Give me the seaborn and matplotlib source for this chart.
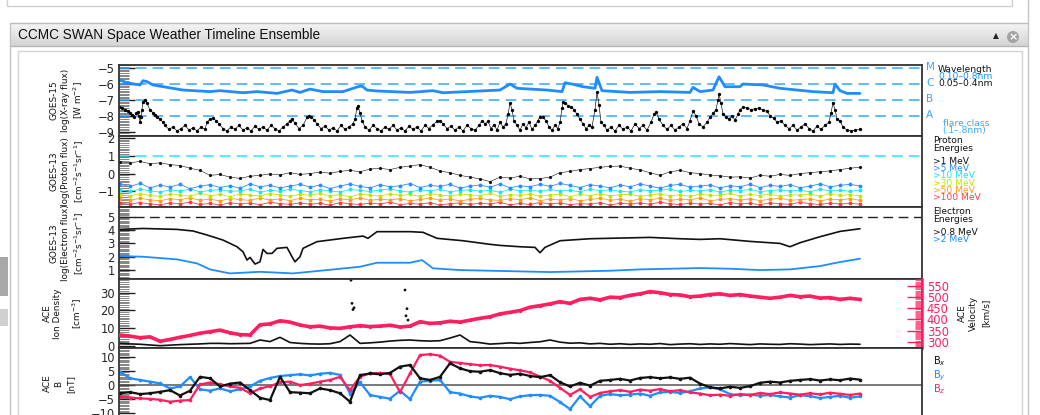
import numpy as np
import pandas as pd
import matplotlib
matplotlib.use("Agg")
import matplotlib.pyplot as plt
import seaborn as sns
from matplotlib.ticker import MultipleLocator, FixedLocator
from matplotlib.patches import Rectangle, Circle
from matplotlib.colors import LinearSegmentedColormap

# ---------------- data (time axis: hours from start of interval) ----------------
# GOES-15 X-ray, 0.1-0.8 nm (log W m^-2)
xray_long_t = [1, 8, 21, 24, 28, 34, 48, 64, 91, 101, 124, 138, 158, 173, 181, 191, 204, 224, 239, 243,
               248, 258, 291, 314, 324, 361, 381, 391, 398, 428, 443, 446, 453, 464, 476, 478, 483, 511, 541, 571,
               574, 581, 594, 600, 606, 621, 624, 644, 661, 694, 714, 716, 721, 728, 741]
xray_long = [-5.74, -5.91, -6.05, -5.78, -5.84, -6.05, -6.2, -6.37, -6.47, -6.41, -6.54, -6.47, -6.58, -6.37, -6.52,
             -6.31, -6.47, -6.47, -6.16, -6.12, -6.37, -6.43, -6.52, -6.41, -6.54, -6.43, -6.37, -5.99, -6.26, -6.37,
             -6.47, -5.91, -5.99, -6.16, -6.26, -5.57, -6.41, -6.52, -6.47, -6.52, -6.2, -6.47, -6.37, -5.53, -6.16,
             -6.16, -5.99, -6.05, -6.26, -6.47, -6.54, -5.99, -6.41, -6.58, -6.58]
# GOES-15 X-ray, 0.05-0.4 nm (time, log flux)
xray_short_pts = [
    (0, -7.42), (3, -7.5), (6, -7.6), (9, -7.7), (11, -7.84), (13, -7.95), (15, -8.05), (17, -7.85), (19, -7.74),
    (20, -8.0), (21, -8.37), (22, -8.1), (23, -7.6), (24, -7.1), (26, -7.0), (28, -7.2), (31, -7.63), (34, -7.8),
    (36, -7.95), (38, -8.05), (41, -8.2), (44, -8.4),
    (46, -8.6), (50, -8.85), (54, -8.7), (58, -8.95), (62, -8.8), (66, -8.6), (70, -8.9), (74, -8.75), (78, -8.95),
    (82, -8.7), (86, -8.85), (88, -8.4), (91, -8.2), (94, -8.15), (97, -8.3), (100, -8.5), (104, -8.8), (108, -8.95),
    (112, -8.7), (116, -8.85), (120, -8.6), (124, -8.9), (128, -8.75), (132, -8.95), (136, -8.65), (140, -8.85),
    (144, -8.7), (148, -8.9), (152, -8.6), (156, -8.8), (160, -8.95), (164, -8.7), (168, -8.5), (171, -8.3),
    (173, -8.2), (176, -8.45), (180, -8.8), (184, -8.6), (188, -8.1), (190, -8.0), (192, -8.05), (195, -8.25),
    (198, -8.5), (202, -8.8), (206, -8.65), (210, -8.9), (214, -8.75), (218, -8.95), (222, -8.6), (226, -8.85),
    (230, -8.7), (234, -8.5), (236, -8.2), (238, -7.5), (239, -7.4), (241, -7.8), (243, -8.3), (246, -8.7),
    (250, -8.9), (254, -8.6), (258, -8.8), (262, -8.95), (266, -8.7), (270, -8.85), (274, -8.6), (278, -8.9),
    (282, -8.75), (286, -8.95), (290, -8.65), (294, -8.85), (298, -8.7), (302, -8.95), (306, -8.6), (310, -8.8),
    (314, -8.55), (318, -8.35), (321, -8.3), (324, -8.5), (328, -8.8), (332, -8.65), (336, -8.9), (340, -8.7),
    (344, -8.95), (348, -8.6), (352, -8.8), (356, -8.9), (360, -8.6), (363, -8.3), (366, -8.5), (369, -8.35),
    (372, -8.8), (375, -8.55), (378, -8.9), (381, -8.4), (384, -8.7), (387, -8.5), (389, -7.9), (391, -7.2),
    (393, -7.6), (395, -8.3), (398, -8.6), (401, -8.9), (404, -8.5), (407, -8.75), (410, -8.4), (413, -8.85),
    (416, -8.6), (419, -8.3), (421, -8.05), (424, -8.1), (427, -8.3), (430, -8.7), (433, -8.9), (436, -8.6),
    (439, -8.8), (441, -8.4), (443, -7.5), (444, -7.1), (446, -7.2), (449, -7.35), (452, -7.45), (455, -7.6),
    (458, -7.9), (461, -8.2), (464, -8.5), (467, -8.8), (470, -8.6), (473, -8.7), (476, -7.6), (478, -6.5),
    (480, -7.3), (482, -8.4), (485, -8.6), (488, -8.9), (492, -8.7), (496, -8.95), (500, -8.6), (504, -8.85),
    (508, -8.7), (512, -8.95), (516, -8.5), (520, -8.8), (524, -8.6), (528, -8.9), (532, -8.4), (535, -7.9),
    (537, -7.75), (540, -8.2), (544, -8.6), (548, -8.85), (552, -8.6), (556, -8.9), (560, -8.7), (564, -8.5),
    (568, -8.8), (571, -8.3), (574, -7.7), (577, -8.0), (580, -8.5), (584, -8.7), (588, -8.4), (591, -8.1),
    (594, -7.85), (597, -7.6), (599, -7.0), (600, -6.6), (602, -7.2), (604, -7.9), (607, -8.05), (610, -8.2),
    (613, -8.0), (616, -8.25), (619, -7.9), (621, -7.6), (624, -7.45), (628, -7.5), (632, -7.6), (636, -7.55),
    (640, -7.5), (644, -7.65), (648, -7.7), (651, -8.0), (655, -8.15), (658, -8.4), (662, -8.3), (666, -8.6),
    (670, -8.8), (674, -8.6), (678, -8.9), (682, -8.7), (686, -8.5), (690, -8.8), (694, -8.95), (698, -8.65),
    (702, -8.85), (706, -8.6), (710, -8.4), (712, -7.8), (714, -7.2), (716, -7.6), (718, -8.2), (721, -8.3),
    (724, -8.7), (728, -8.9), (732, -8.95), (736, -8.9), (741, -8.85)]
flare_levels = [-5, -6, -7, -8]
flare_classes = ["M", "C", "B", "A"]

# GOES-13 protons, log flux (evenly sampled over the interval)
proton_1 = [0.65, 0.6, 0.68, 0.55, 0.6, 0.5, 0.45, 0.3, 0.18, -0.1, -0.05, -0.2, -0.27, -0.15, -0.1, -0.02, -0.08,
            0.05, -0.05, 0.0, 0.08, 0.02, 0.12, 0.18, 0.1, 0.25, 0.3, 0.22, 0.35, 0.42, 0.5, 0.35, 0.15, 0.05, -0.1,
            -0.2, -0.3, -0.45, -0.2, -0.25, -0.15, -0.3, -0.28, -0.2, 0.05, 0.12, 0.22, 0.28, 0.35, 0.4, 0.42, 0.3,
            0.2, 0.05, -0.1, 0.1, 0.18, 0.05, 0.0, -0.08, -0.12, -0.2, -0.18, -0.25, -0.1, -0.15, -0.05, -0.1, 0.0,
            0.05, 0.1, 0.15, 0.22, 0.3, 0.35]
proton_5 = [-0.6, -0.72, -0.55, -0.8, -0.65, -0.75, -0.6, -0.85, -0.7, -0.62, -0.78, -0.68, -0.82, -0.58, -0.74,
            -0.66, -0.8, -0.7, -0.6, -0.76, -0.64, -0.84, -0.7, -0.58, -0.72, -0.8, -0.62, -0.74, -0.68, -0.56,
            -0.78, -0.66, -0.72, -0.6, -0.82, -0.7, -0.64, -0.76, -0.58, -0.8, -0.68, -0.74, -0.6, -0.72, -0.55,
            -0.66, -0.78, -0.62, -0.7, -0.8, -0.64, -0.74, -0.58, -0.7, -0.82, -0.66, -0.6, -0.76, -0.7, -0.64,
            -0.8, -0.68, -0.74, -0.6, -0.78, -0.66, -0.72, -0.62, -0.8, -0.7, -0.58, -0.74, -0.66, -0.6, -0.7]
proton_10 = [-0.92, -1.0, -0.88, -0.96, -1.04, -0.9, -0.98, -0.86, -1.02, -0.94, -0.9, -1.0, -0.96, -0.88, -1.05,
             -0.93, -0.99, -0.87, -0.95, -1.02, -0.9, -0.97, -1.03, -0.89, -0.94, -1.0, -0.92, -0.86, -0.98, -1.04,
             -0.91, -0.96, -0.88, -1.01, -0.95, -0.9, -0.99, -0.93, -1.05, -0.87, -0.96, -0.92, -1.0, -0.89, -0.97,
             -0.94, -1.02, -0.88, -0.95, -0.91, -0.99, -1.03, -0.9, -0.96, -0.93, -0.87, -1.0, -0.94, -0.98, -0.9,
             -1.04, -0.92, -0.96, -0.89, -1.01, -0.95, -0.91, -0.98, -0.93, -1.02, -0.88, -0.96, -0.92, -0.99, -0.94]
proton_30 = [-1.18, -1.25, -1.12, -1.22, -1.28, -1.15, -1.2, -1.26, -1.1, -1.23, -1.17, -1.29, -1.14, -1.21, -1.25,
             -1.12, -1.19, -1.27, -1.16, -1.22, -1.11, -1.24, -1.18, -1.3, -1.15, -1.2, -1.26, -1.13, -1.22, -1.17,
             -1.28, -1.12, -1.21, -1.25, -1.16, -1.19, -1.24, -1.11, -1.27, -1.18, -1.22, -1.14, -1.26, -1.2, -1.15,
             -1.29, -1.17, -1.23, -1.12, -1.25, -1.19, -1.16, -1.28, -1.21, -1.13, -1.24, -1.18, -1.27, -1.15, -1.22,
             -1.2, -1.11, -1.26, -1.17, -1.23, -1.14, -1.28, -1.19, -1.21, -1.16, -1.25, -1.13, -1.22, -1.18, -1.24]
proton_50 = [-1.44, -1.5, -1.38, -1.47, -1.52, -1.41, -1.46, -1.36, -1.49, -1.43, -1.53, -1.4, -1.45, -1.5, -1.37,
             -1.48, -1.42, -1.51, -1.39, -1.46, -1.44, -1.54, -1.41, -1.47, -1.36, -1.5, -1.43, -1.48, -1.4, -1.52,
             -1.45, -1.38, -1.49, -1.42, -1.53, -1.44, -1.39, -1.47, -1.5, -1.41, -1.46, -1.37, -1.51, -1.43, -1.48,
             -1.4, -1.52, -1.45, -1.38, -1.49, -1.44, -1.54, -1.41, -1.46, -1.39, -1.5, -1.43, -1.47, -1.36, -1.52,
             -1.45, -1.4, -1.48, -1.42, -1.51, -1.44, -1.38, -1.49, -1.46, -1.41, -1.53, -1.43, -1.47, -1.4, -1.5]
proton_100 = [-1.66, -1.72, -1.62, -1.7, -1.75, -1.64, -1.69, -1.6, -1.73, -1.67, -1.76, -1.63, -1.7, -1.65, -1.74,
              -1.61, -1.68, -1.72, -1.64, -1.71, -1.66, -1.77, -1.62, -1.69, -1.73, -1.65, -1.7, -1.6, -1.74, -1.67,
              -1.71, -1.63, -1.76, -1.68, -1.64, -1.72, -1.66, -1.7, -1.61, -1.75, -1.67, -1.73, -1.62, -1.69, -1.65,
              -1.74, -1.68, -1.71, -1.63, -1.76, -1.66, -1.7, -1.64, -1.72, -1.6, -1.69, -1.73, -1.65, -1.71, -1.67,
              -1.75, -1.62, -1.7, -1.66, -1.74, -1.64, -1.69, -1.72, -1.61, -1.68, -1.73, -1.65, -1.7, -1.67, -1.71]
proton_labels = [">1 MeV", ">5 MeV", ">10 MeV", ">30 MeV", ">50 MeV", ">100 MeV"]

# GOES-13 electrons, log flux
elec_08_t = [1, 24, 58, 74, 88, 104, 118, 124, 128, 131, 136, 141, 144, 148, 153, 158, 168, 173, 176, 181, 184,
             198, 224, 244, 249, 258, 291, 304, 318, 344, 371, 381, 401, 416, 421, 426, 441, 471, 501, 531, 561,
             581, 601, 631, 661, 671, 681, 701, 721, 741]
elec_08 = [4.05, 4.12, 4.05, 3.93, 3.63, 3.25, 2.75, 2.37, 1.75, 1.95, 1.45, 1.62, 2.55, 2.25, 2.25, 2.63, 2.7, 2.0,
           1.62, 2.0, 2.63, 3.13, 3.38, 3.55, 3.38, 3.88, 3.88, 3.83, 3.38, 3.2, 2.93, 2.85, 2.75, 2.7, 2.3, 2.7,
           3.2, 3.35, 3.4, 3.45, 3.35, 3.3, 3.35, 3.15, 3.0, 2.75, 3.05, 3.5, 3.9, 4.1]
elec_2_t = [1, 24, 58, 78, 91, 111, 141, 174, 208, 241, 258, 291, 303, 314, 341, 371, 401, 431, 461, 491, 521, 551,
            581, 611, 641, 671, 701, 721, 741]
elec_2 = [2.05, 2.0, 1.8, 1.5, 1.05, 0.75, 0.87, 0.75, 1.0, 1.25, 1.55, 1.55, 1.75, 1.13, 1.0, 0.95, 0.9, 0.85, 0.9,
          0.95, 1.05, 1.1, 1.15, 1.1, 1.0, 1.05, 1.3, 1.6, 1.85]

# ACE solar wind (evenly sampled)
ace_velocity = [330, 325, 318, 322, 302, 310, 320, 328, 338, 345, 352, 340, 332, 330, 376, 380, 394, 388, 375, 367,
                370, 362, 360, 367, 372, 368, 370, 374, 366, 370, 390, 382, 385, 392, 388, 397, 405, 412, 425, 432,
                440, 455, 462, 470, 480, 472, 490, 495, 488, 500, 498, 508, 515, 525, 520, 512, 510, 502, 505, 512,
                515, 508, 512, 505, 500, 495, 500, 508, 502, 505, 496, 498, 490, 495, 490]
ace_density = [1.5, 1.2, 1.0, 0.6, 0.2, 0.5, 0.8, 1.0, 1.2, 1.5, 1.5, 1.3, 1.4, 1.5, 3.4, 2.5, 4.9, 2.0, 1.5, 1.2,
               1.1, 1.3, 2.5, 6.2, 1.5, 1.8, 2.2, 2.8, 3.2, 3.4, 3.0, 2.8, 3.0, 4.5, 6.2, 2.5, 1.9, 1.1, 1.4, 1.8,
               1.5, 2.0, 2.4, 3.4, 2.2, 1.6, 1.8, 1.2, 1.5, 1.0, 1.3, 0.9, 1.2, 1.0, 1.4, 0.8, 1.1, 1.3, 0.9, 1.2,
               1.0, 1.4, 1.1, 0.8, 1.2, 1.0, 0.9, 1.3, 1.1, 0.8, 1.0, 1.2, 0.9, 1.1, 1.0]
density_spikes_t = [232, 233, 234, 235, 286, 287, 288, 289]
density_spikes = [37.0, 24.0, 20.5, 21.5, 31.5, 17.0, 21.0, 14.6]

# ACE magnetic field components, nT (evenly sampled)
ace_bx = [-2.9, -2.5, -3.2, -2.9, -2.4, -1.8, -3.7, -2.0, 2.9, 2.4, -0.5, 0.5, 0.9, -1.8, -4.5, -5.3, 2.9, -2.5,
          -2.7, -2.9, -1.2, -1.8, -2.9, -5.9, 3.5, 4.1, 3.8, 4.3, 6.5, 7.1, 2.4, 1.8, 2.9, 7.7, 5.9, 4.9, 4.7, 5.3,
          4.2, 3.6, 4.0, 3.2, 2.8, 3.5, 1.0, -0.5, 0.8, -0.2, 1.5, 1.8, 2.2, 1.6, 2.5, 2.8, 2.4, 2.7, 2.2, 2.6, 0.5,
          -0.8, -1.2, -0.6, -1.0, -0.4, 0.8, 1.2, 0.9, 1.5, 1.8, 2.1, 1.6, 2.0, 1.7, 2.3, 1.9]
ace_by = [4.7, 2.4, 1.8, 1.2, 0.6, -1.2, -0.5, 2.8, -1.5, -2.0, -1.2, -2.2, -1.5, -0.5, 1.5, 2.5, 3.2, 3.5, 3.8, 3.4,
          4.0, 4.3, 3.6, -3.0, 1.0, -3.5, -4.2, -4.8, -2.0, -5.0, 1.2, 1.5, 1.8, -2.5, -3.0, -4.0, -4.5, -3.8, -4.2,
          -5.0, -4.0, -3.6, -3.5, -3.8, -6.0, -8.5, -4.0, -7.5, -3.8, -3.2, -3.6, -3.4, -3.0, -3.8, -2.6, -2.4, -2.8,
          -2.2, -1.2, -0.8, -1.5, -3.2, -3.6, -3.4, -3.8, -3.5, -4.0, -4.4, -3.6, -3.9, -4.6, -4.2, -3.8, -4.5, -4.0]
ace_bz = [-4.1, -4.4, -4.7, -4.9, -5.2, -5.9, -5.5, -5.3, 0.2, 0.9, 0.3, -0.5, -1.0, -2.9, -1.2, -0.4, 1.0, 1.2, 0.0,
          0.5, 1.2, 1.8, 2.9, -1.8, 3.0, 4.1, 4.3, 3.9, -2.5, 4.1, 10.6, 10.9, 10.4, 8.2, 7.8, 7.4, 7.0, 7.1, 6.5,
          5.8, 5.2, 4.5, 3.0, 1.5, -1.0, -3.5, -1.5, -4.2, -2.8, -2.2, -1.8, -2.4, -1.6, -2.0, -1.4, -2.2, -1.8,
          -2.6, -3.0, -3.6, -3.4, -3.8, -3.2, -3.5, -2.8, -3.2, -2.6, -3.0, -3.4, -2.9, -3.3, -2.7, -3.1, -3.5, -3.0]

T_START, T_END, T_AXIS = 1, 741, 803

# ---------------- styling ----------------
sns.set_style("white")
plt.rcParams['font.family'] = ['DejaVu Sans']

BLUE = '#1f8cff'
DASHBLUE = '#3aa6ff'
PINK = '#ff1f5f'
CYAN = '#2fe3f2'
PCOLORS = ['#111111', '#2b8cff', '#19e6ee', '#c4e400', '#ff9a1a', '#ff3850']

W, H = 1040, 415
fig = plt.figure(figsize=(W / 100, H / 100), dpi=100)
fig.patch.set_facecolor('white')

# page chrome (pixel coordinates)
bg = fig.add_axes([0, 0, 1, 1], zorder=-10)
bg.axis('off')
bg.plot([7, 7, 1012, 1012], [0, 6, 6, 0], color='#cfcfcf', lw=1)
cm = LinearSegmentedColormap.from_list('bar', ['#f5f5f5', '#d4d4d4'])
bg.imshow(np.linspace(0, 1, 30)[:, None], cmap=cm, extent=[10, 1028, 46, 23], aspect='auto',
          origin='upper', zorder=1)
bg.plot([10, 1028], [23, 23], color='#bdbdbd', lw=1, zorder=2)
bg.plot([10, 1028], [46, 46], color='#b5b5b5', lw=1, zorder=2)
bg.plot([10, 10], [23, 415], color='#c4c4c4', lw=1)
bg.plot([1028, 1028], [0, 415], color='#c4c4c4', lw=1)
bg.add_patch(Rectangle((18, 51), 1004, 380, fc='white', ec='#d4d4d4', lw=1))
bg.add_patch(Rectangle((0, 257), 8, 39, fc='#a8a8a8', ec='none'))
bg.add_patch(Rectangle((0, 309), 8, 17, fc='#d0d0d0', ec='none'))
bg.text(18, 35.5, "CCMC SWAN Space Weather Timeline Ensemble", fontsize=9.8, family='Liberation Sans',
        ha='left', va='center', color='#111111', zorder=3)
bg.text(996, 35.5, '\u25B2', fontsize=5.5, ha='center', va='center', color='#222222', zorder=3)
bg.add_patch(Circle((1013, 37), 6, fc='#a3a3a3', ec='none', zorder=3))
bg.text(1013, 37, '\u00D7', fontsize=8, ha='center', va='center', color='white', fontweight='bold', zorder=4)
bg.set_xlim(0, W)
bg.set_ylim(H, 0)


def panel(top, bottom):
    return fig.add_axes([119 / W, 1 - bottom / H, (922 - 119) / W, (bottom - top) / H])


def style(ax, ylim, major, minor):
    ax.set_facecolor('white')
    ax.set_xlim(0, T_AXIS)
    ax.set_ylim(*ylim)
    ax.set_xticks([])
    ax.set_xlabel('')
    ax.set_ylabel('')
    ax.yaxis.set_major_locator(FixedLocator(major))
    ax.yaxis.set_minor_locator(MultipleLocator(minor))
    ax.tick_params(axis='y', which='major', direction='in', length=11.5, width=1.0, color='#222222',
                   labelsize=8.3, pad=3, left=True, right=False)
    ax.tick_params(axis='y', which='minor', direction='in', length=7, width=0.5, color='#555555',
                   left=True, right=False)
    for s in ax.spines.values():
        s.set_color('#333333')
        s.set_linewidth(1.3)


def line(ax, t, v, color, lw, ms=0):
    sns.lineplot(x=np.asarray(t, float), y=np.asarray(v, float), ax=ax, color=color, linewidth=lw,
                 marker='o' if ms else None, markersize=ms, markeredgewidth=0,
                 estimator=None, sort=False)


def even_t(vals):
    return np.linspace(T_START, T_END, len(vals))


# ---- Panel 1: X-ray ----
ax1 = panel(65, 136)
for lv in flare_levels:
    ax1.axhline(lv, color=DASHBLUE, lw=1.1, dashes=(7, 4))
xs_t = [p[0] for p in xray_short_pts]
xs_v = [p[1] for p in xray_short_pts]
line(ax1, xs_t, xs_v, '#000000', 0.45, ms=2.4)
line(ax1, xray_long_t, xray_long, BLUE, 2.0)
style(ax1, (-9.27, -4.79), [-9, -8, -7, -6, -5], 0.1)

# ---- Panel 2: protons ----
ax2 = panel(136, 207)
ax2.axhline(1, color=CYAN, lw=1.1, dashes=(7, 4))
for vals, col in zip([proton_100, proton_50, proton_30, proton_10, proton_5],
                     [PCOLORS[5], PCOLORS[4], PCOLORS[3], PCOLORS[2], PCOLORS[1]]):
    line(ax2, even_t(vals), vals, col, 0.6, ms=2.8)
line(ax2, even_t(proton_1), proton_1, PCOLORS[0], 0.4, ms=2.3)
style(ax2, (-1.87, 2.1), [-1, 0, 1, 2], 0.1)

# ---- Panel 3: electrons ----
ax3 = panel(207, 279)
ax3.axhline(5, color='#222222', lw=1.0, dashes=(7, 4))
line(ax3, elec_08_t, elec_08, '#111111', 1.2)
line(ax3, elec_2_t, elec_2, BLUE, 1.3)
style(ax3, (0.33, 5.73), [1, 2, 3, 4, 5], 0.1)

# ---- Panel 4: ACE density + velocity ----
ax4 = panel(279, 348)
line(ax4, even_t(ace_density), ace_density, '#111111', 1.2)
sns.scatterplot(x=density_spikes_t, y=density_spikes, ax=ax4, color='#111111', s=4, edgecolor='none')
style(ax4, (-1.1, 37.7), [0, 10, 20, 30], 1)
ax4v = ax4.twinx()
line(ax4v, even_t(ace_velocity), ace_velocity, PINK, 2.6, ms=2.5)
ax4v.set_xlim(0, T_AXIS)
ax4v.set_ylim(271.7, 581.7)
ax4v.set_ylabel('')
ax4v.yaxis.set_major_locator(FixedLocator([300, 350, 400, 450, 500, 550]))
ax4v.yaxis.set_minor_locator(MultipleLocator(5))
ax4v.tick_params(axis='y', which='major', direction='in', length=11, width=1.0, color=PINK,
                 labelcolor=PINK, labelsize=8.3, pad=3.5, right=True, left=False)
ax4v.tick_params(axis='y', which='minor', direction='in', length=5, width=0.5, color=PINK,
                 right=True, left=False)
for k, s in ax4v.spines.items():
    s.set_visible(k == 'right')
ax4v.spines['right'].set_color(PINK)
ax4v.spines['right'].set_linewidth(1.8)

# ---- Panel 5: ACE B ----
ax5 = panel(348, 419)
ax5.axhline(0, color='#555555', lw=1.1)
line(ax5, even_t(ace_by), ace_by, BLUE, 1.6, ms=2.6)
line(ax5, even_t(ace_bz), ace_bz, PINK, 1.6, ms=2.6)
line(ax5, even_t(ace_bx), ace_bx, '#111111', 1.6, ms=2.6)
style(ax5, (-12.0, 13.1), [-10, -5, 0, 5, 10], 0.5)

# ---------------- text annotations ----------------
def ylab(x, y, s, size=6.4, color='#111111'):
    bg.text(x, y, s, rotation=90, ha='center', va='center', fontsize=size, color=color)


ylab(54, 100.5, "GOES-15")
ylab(66, 100.5, "log(X-ray flux)")
ylab(78, 100.5, "[W m$^{-2}$]")
ylab(54, 171.5, "GOES-13")
ylab(66, 171.5, "log(Proton flux)")
ylab(79, 171.5, "[cm$^{-2}$s$^{-1}$sr$^{-1}$]")
ylab(54, 243, "GOES-13")
ylab(66, 243, "log(Electron flux)")
ylab(79, 243, "[cm$^{-2}$s$^{-1}$sr$^{-1}$]")
ylab(47, 313.5, "ACE")
ylab(58, 313.5, "Ion Density")
ylab(77, 313.5, "[cm$^{-3}$]")
ylab(47, 383.5, "ACE")
ylab(59, 383.5, "B")
ylab(71, 383.5, "[nT]")
ylab(962, 313, "ACE")
ylab(973, 313, "Velocity")
ylab(986, 313, "[km/s]")


def rtext(x, y, s, color='#111111', size=6.6):
    bg.text(x, y, s, ha='left', va='center', fontsize=size, color=color)


for lbl, y in zip(flare_classes, [66.5, 83.5, 98.5, 114.5]):
    rtext(926, y, lbl, color=DASHBLUE, size=7.5)
rtext(938, 69.5, "Wavelength")
rtext(938, 76.5, "0.10\u20130.8nm", color=BLUE)
rtext(938, 83.5, "0.05\u20130.4nm")
rtext(943, 123, "flare class", color=DASHBLUE)
rtext(942, 130, "(.1\u2013.8nm)", color=DASHBLUE)
rtext(933, 140.5, "Proton")
rtext(933, 148.5, "Energies")
for lbl, col, y in zip(proton_labels, PCOLORS, [161.5, 168.7, 175.9, 183.1, 190.3, 197.5]):
    rtext(933, y, lbl, color=col)
rtext(933, 211.5, "Electron")
rtext(933, 219.3, "Energies")
rtext(933, 232.5, ">0.8 MeV")
rtext(933, 239.7, ">2 MeV", color=BLUE)
rtext(933, 360.7, "B$_x$", size=7)
rtext(933, 376, "B$_y$", color=BLUE, size=7)
rtext(933, 389, "B$_z$", color=PINK, size=7)

fig.savefig("out.png", dpi=100)
